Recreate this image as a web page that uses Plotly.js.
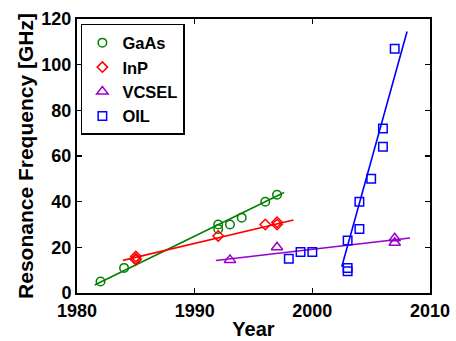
<!DOCTYPE html>
<html>
<head>
<meta charset="utf-8">
<script src="https://cdn.plot.ly/plotly-3.0.1.min.js"></script>
<style>html,body{margin:0;padding:0;background:#fff;}#chart{width:456px;height:341px;}</style>
</head>
<body>
<div id="chart"></div>
<script>
// Measured data
const gaasYear = [1982, 1984, 1992, 1992, 1993, 1994, 1996, 1997];
const gaasFreq = [5, 11, 30, 28, 30, 33, 40, 43];
const inpYear = [1985, 1985, 1985, 1992, 1996, 1997, 1997];
const inpFreq = [16, 15, 14.6, 25, 30, 31, 30];
const vcselYear = [1993, 1997, 2007, 2007];
const vcselFreq = [14.5, 20, 24, 22];
const oilYear = [1998, 1999, 2000, 2003, 2003, 2003, 2004, 2004, 2005, 2006, 2006, 2007];
const oilFreq = [15, 18, 18, 23, 11, 9.5, 28, 40, 50, 64, 72, 107];

// Trend line end points
const gaasFitX = [1981.5, 1997.6];
const gaasFitY = [3.5, 44];
const inpFitX = [1983.9, 1998.4];
const inpFitY = [14.3, 32];
const vcselFitX = [1991.8, 2008.3];
const vcselFitY = [14.2, 24.1];
const oilFitX = [2002.5, 2008.05];
const oilFitY = [11.5, 114.5];

const xTicks = [1980, 1990, 2000, 2010];
const yTicks = [0, 20, 40, 60, 80, 100, 120];

const seriesNames = ['GaAs', 'InP', 'VCSEL', 'OIL'];
const colors = ['#008000', '#ff0000', '#9900cc', '#0000ff'];
const symbols = ['circle-open', 'diamond-open', 'triangle-up-open', 'square-open'];
const sizes = [8.5, 8, 10, 8.5];

const FONT = 'Liberation Sans, Arial, sans-serif';

const pts = [[gaasYear, gaasFreq], [inpYear, inpFreq], [vcselYear, vcselFreq], [oilYear, oilFreq]];
const fits = [[gaasFitX, gaasFitY], [inpFitX, inpFitY], [vcselFitX, vcselFitY], [oilFitX, oilFitY]];

const traces = [];
fits.forEach((f, i) => {
  traces.push({x: f[0], y: f[1], mode: 'lines', showlegend: false, hoverinfo: 'skip',
    line: {color: colors[i], width: 1.6}});
});
pts.forEach((p, i) => {
  traces.push({x: p[0], y: p[1], mode: 'markers', name: seriesNames[i],
    marker: {symbol: symbols[i], color: colors[i], size: sizes[i], line: {width: 1.5, color: colors[i]}}});
});

const axisCommon = {
  showline: true, linecolor: '#000', linewidth: 2, mirror: 'ticks',
  ticks: 'inside', ticklen: 5, tickwidth: 1.2, tickcolor: '#000',
  showgrid: false, zeroline: false,
  tickfont: {family: FONT, size: 18, color: '#000', weight: 700}
};

const layout = {
  width: 456, height: 341,
  margin: {l: 77, r: 26, t: 19, b: 48},
  paper_bgcolor: '#fff', plot_bgcolor: '#fff',
  xaxis: Object.assign({}, axisCommon, {
    range: [1980, 2010], tickvals: xTicks, ticktext: xTicks.map(String),
    title: {text: 'Year', font: {family: FONT, size: 20, color: '#000', weight: 700}, standoff: 2}
  }),
  yaxis: Object.assign({}, axisCommon, {
    range: [0, 120], tickvals: yTicks, ticktext: yTicks.map(String),
    title: {text: 'Resonance Frequency [GHz]', font: {family: FONT, size: 21, color: '#000', weight: 700}, standoff: 2}
  }),
  legend: {
    x: 0.011, y: 0.982, xanchor: 'left', yanchor: 'top',
    bgcolor: '#fff', bordercolor: '#000', borderwidth: 1.5,
    font: {family: FONT, size: 16.5, color: '#000', weight: 700}
  },
  showlegend: true
};

Plotly.newPlot('chart', traces, layout, {staticPlot: true, displayModeBar: false});
</script>
</body>
</html>
